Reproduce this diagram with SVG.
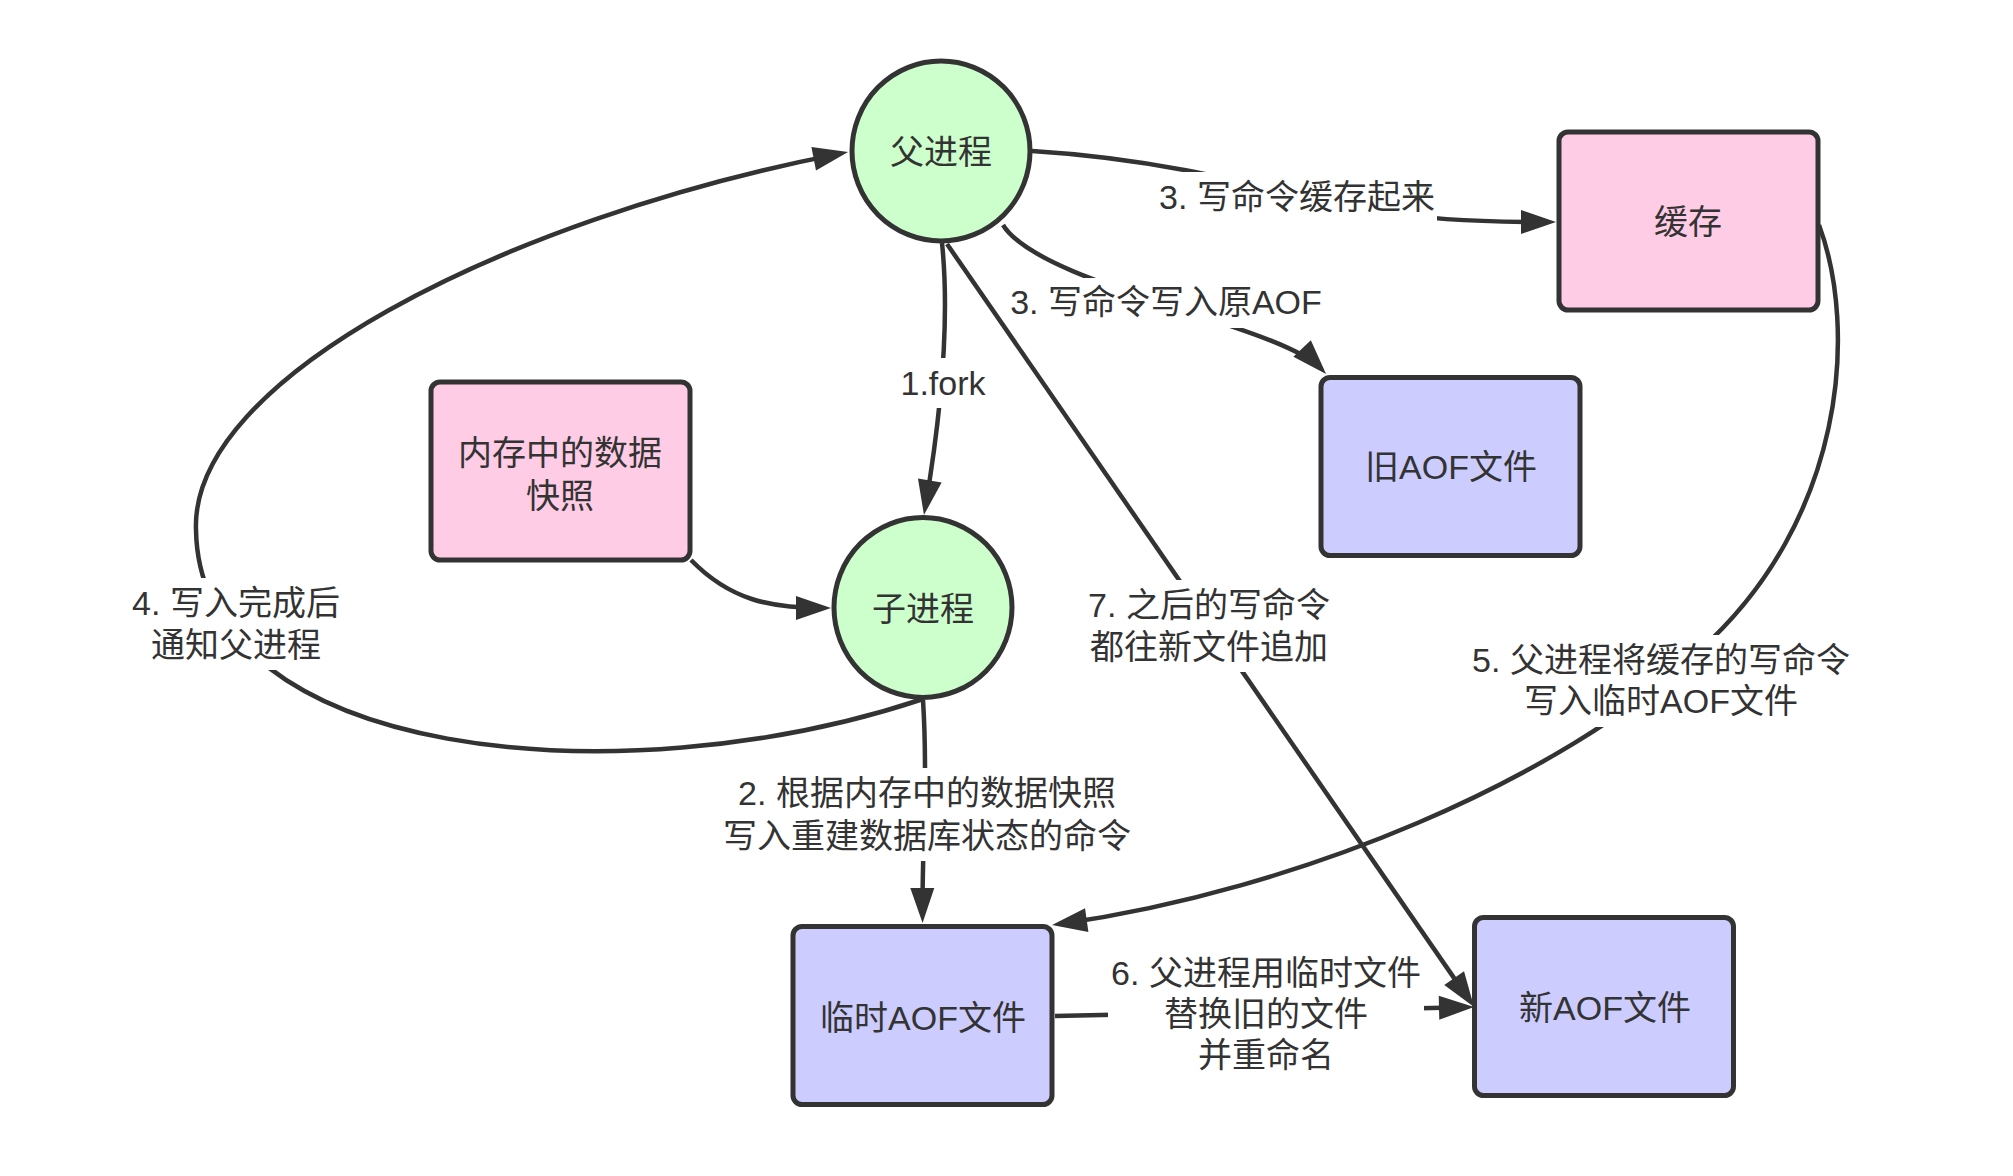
<svg xmlns="http://www.w3.org/2000/svg" width="2013" height="1176" viewBox="0 0 2013 1176">
<style>
.node{stroke:#333;stroke-width:5}
.proc{fill:#ccffcc}
.mem{fill:#ffcce6}
.file{fill:#ccccff}
.edge{fill:none;stroke:#333;stroke-width:4.5;marker-end:url(#arrow)}
.bg{fill:#ffffff}
text{font-family:"Liberation Sans","Noto Sans CJK SC",sans-serif;font-size:34px;fill:#333;text-anchor:middle;dominant-baseline:central}
</style>
<defs>
<marker id="arrow" markerUnits="userSpaceOnUse" markerWidth="36" markerHeight="26" refX="27" refY="12" orient="auto" overflow="visible">
<path d="M0,0 L35,12 L0,24 Z" fill="#333"/>
</marker>
</defs>
<rect width="2013" height="1176" fill="#ffffff"/>

<g id="connectors">
<path id="e-fork" class="edge" d="M942,243 C950,320 940,420 925.3,507.1"/>
<path id="e-cache" class="edge" d="M1032,151 C1180,160 1290,195 1340,205 C1420,220 1475,222 1548,222"/>
<path id="e-oldaof" class="edge" d="M1003,225 C1040,285 1280,325 1320.6,368.2"/>
<path id="e-snapshot" class="edge" d="M691,560 C730,600 770,608 823,608"/>
<path id="e-notify" class="edge" d="M923,699 C620,800 200,760 196,530 C190,380 500,220 840.2,153.6"/>
<path id="e-rebuild" class="edge" d="M923,700 C928,780 922,850 922.5,915"/>
<path id="e-flush" class="edge" d="M1819,225 C1858,330 1845,520 1700,650 C1560,780 1300,890 1060,924"/>
<path id="e-append" class="edge" d="M947,244 L1469.5,1000.4"/>
<path id="e-replace" class="edge" d="M1055,1016 L1466,1007.2"/>

<g id="lbl-cache">
<rect class="bg" x="1159" y="172" width="278" height="50"/>
<text x="1297" y="197">3. 写命令缓存起来</text>
</g>
<g id="lbl-oldaof">
<rect class="bg" x="1011" y="278" width="311" height="50"/>
<text x="1166" y="302">3. 写命令写入原AOF</text>
</g>
<g id="lbl-fork">
<rect class="bg" x="895" y="358" width="96" height="50"/>
<text x="943" y="383">1.fork</text>
</g>
<g id="lbl-notify">
<rect class="bg" x="129" y="578" width="214" height="92"/>
<text x="236" y="603">4. 写入完成后</text>
<text x="236" y="645">通知父进程</text>
</g>
<g id="lbl-append">
<rect class="bg" x="1085" y="580" width="248" height="92"/>
<text x="1209" y="605">7. 之后的写命令</text>
<text x="1209" y="647">都往新文件追加</text>
</g>
<g id="lbl-flush">
<rect class="bg" x="1472" y="635" width="379" height="92"/>
<text x="1661" y="660">5. 父进程将缓存的写命令</text>
<text x="1661" y="701">写入临时AOF文件</text>
</g>
<g id="lbl-rebuild">
<rect class="bg" x="722" y="768" width="411" height="93"/>
<text x="927" y="793">2. 根据内存中的数据快照</text>
<text x="927" y="836">写入重建数据库状态的命令</text>
</g>
<g id="lbl-replace">
<rect class="bg" x="1108" y="948" width="316" height="134"/>
<text x="1266" y="973">6. 父进程用临时文件</text>
<text x="1266" y="1014">替换旧的文件</text>
<text x="1266" y="1055">并重命名</text>
</g>
</g>

<g id="parent">
<ellipse class="node proc" cx="941" cy="151" rx="89" ry="90"/>
<text x="941" y="152">父进程</text>
</g>
<g id="child">
<ellipse class="node proc" cx="923" cy="607.5" rx="89" ry="90"/>
<text x="923" y="609">子进程</text>
</g>
<g id="cache">
<rect class="node mem" x="1559" y="132" width="259" height="178" rx="9"/>
<text x="1688" y="222">缓存</text>
</g>
<g id="snapshot">
<rect class="node mem" x="431" y="382" width="259" height="178" rx="9"/>
<text x="560" y="453">内存中的数据</text>
<text x="560" y="496">快照</text>
</g>
<g id="old-aof">
<rect class="node file" x="1321" y="377.5" width="259" height="178" rx="9"/>
<text x="1451" y="467">旧AOF文件</text>
</g>
<g id="temp-aof">
<rect class="node file" x="793" y="926.5" width="259" height="178" rx="9"/>
<text x="923" y="1018">临时AOF文件</text>
</g>
<g id="new-aof">
<rect class="node file" x="1474.5" y="917.5" width="259" height="178" rx="9"/>
<text x="1605" y="1008">新AOF文件</text>
</g>
</svg>
